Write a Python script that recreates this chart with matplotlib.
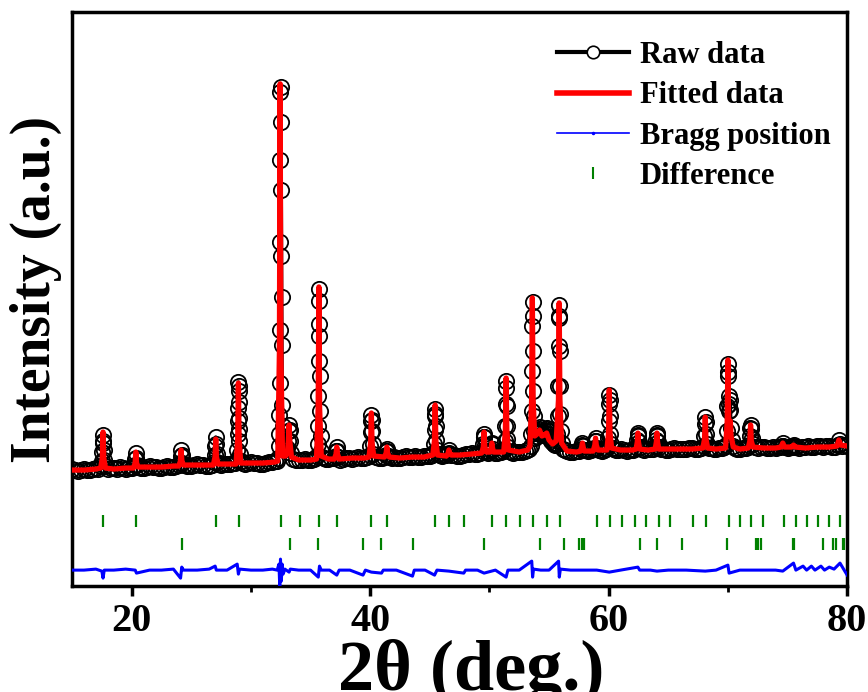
import numpy as np
import matplotlib
matplotlib.use('Agg')
import matplotlib.pyplot as plt
from matplotlib.lines import Line2D

plt.rcParams['font.family'] = ['Liberation Serif', 'DejaVu Serif']
plt.rcParams['font.weight'] = 'bold'

# observed pattern (2theta, intensity a.u.)
obs_x = [15.0, 15.25, 15.5, 15.75, 16.0, 16.25, 16.5, 16.75, 17.0, 17.2,
         17.44, 17.50, 17.54, 17.57, 17.60, 17.63, 17.66, 17.70, 17.76,
         18.0, 18.25, 18.5, 18.75, 19.0, 19.25, 19.5, 19.75, 20.0, 20.15,
         20.27, 20.32, 20.35, 20.38, 20.43,
         20.6, 20.8, 21.0, 21.25, 21.5, 21.75, 22.0, 22.25, 22.5, 22.75, 23.0, 23.25, 23.5, 23.75, 24.0,
         24.07, 24.12, 24.15, 24.18, 24.24,
         24.4, 24.6, 24.75, 25.0, 25.25, 25.5, 25.75, 26.0, 26.25, 26.5, 26.75,
         26.92, 26.98, 27.02, 27.05, 27.08, 27.12, 27.19,
         27.35, 27.5, 27.75, 28.0, 28.25, 28.5, 28.65,
         28.80, 28.86, 28.90, 28.92, 28.93, 28.95, 28.96, 28.97, 28.99, 29.00, 29.02, 29.04, 29.09, 29.16,
         29.3, 29.5, 29.75, 30.0, 30.25, 30.5, 30.75, 31.0, 31.25, 31.5, 31.75, 32.0, 32.15,
         32.28, 32.32, 32.35, 32.38, 32.40, 32.42, 32.44, 32.46, 32.48, 32.50, 32.52, 32.54, 32.56, 32.58, 32.60,
         32.63, 32.67, 32.72, 32.78, 32.85, 32.92, 33.00,
         33.10, 33.16, 33.20, 33.24, 33.30, 33.40,
         33.5, 33.75, 34.0, 34.25, 34.5, 34.75, 35.0, 35.25, 35.4,
         35.55, 35.60, 35.63, 35.65, 35.67, 35.69, 35.71, 35.73, 35.75, 35.77, 35.80, 35.84, 35.90, 35.98,
         36.15, 36.3, 36.5, 36.75, 37.0,
         37.12, 37.17, 37.20, 37.23, 37.30,
         37.5, 37.75, 38.0, 38.25, 38.5, 38.75, 39.0, 39.25, 39.5, 39.75,
         39.96, 40.02, 40.06, 40.09, 40.11, 40.13, 40.16, 40.20, 40.27,
         40.5, 40.75, 41.0, 41.15,
         41.30, 41.36, 41.40, 41.45, 41.52,
         41.7, 41.85, 42.0, 42.25, 42.5, 42.75, 43.0, 43.25, 43.5, 43.75, 44.0, 44.25, 44.5, 44.75, 45.0, 45.15,
         45.30, 45.36, 45.40, 45.43, 45.45, 45.47, 45.50, 45.54, 45.60, 45.68,
         45.85, 46.0, 46.2, 46.35,
         46.52, 46.58, 46.64,
         46.8, 47.0, 47.25, 47.5, 47.75, 48.0, 48.25, 48.5, 48.75, 49.0, 49.25,
         49.42, 49.48, 49.52, 49.55, 49.58, 49.62, 49.70,
         49.85, 50.0,
         50.12, 50.18, 50.22, 50.27,
         50.45, 50.6, 50.8, 51.0, 51.12,
         51.25, 51.30, 51.34, 51.37, 51.40, 51.42, 51.44, 51.47, 51.51, 51.57, 51.65,
         51.8, 52.0, 52.25, 52.5, 52.75, 53.0, 53.15, 53.3,
         53.45, 53.50, 53.54, 53.57, 53.60, 53.62, 53.64, 53.66, 53.69, 53.72, 53.76, 53.82,
         53.90, 54.00, 54.08, 54.15, 54.25, 54.35, 54.42, 54.50, 54.58, 54.65, 54.72, 54.80, 54.88, 54.95,
         55.02, 55.10, 55.2, 55.30, 55.40, 55.50, 55.58, 55.65,
         55.70, 55.74, 55.77, 55.80, 55.83, 55.85, 55.87, 55.90, 55.93, 55.96, 56.00, 56.08, 56.2,
         56.35, 56.5, 56.75, 57.0, 57.25, 57.5,
         57.70, 57.76, 57.80, 57.85, 57.92,
         58.1, 58.3, 58.5, 58.65,
         58.80, 58.86, 58.90, 58.94, 59.02,
         59.2, 59.4, 59.6, 59.75,
         59.90, 59.96, 60.00, 60.03, 60.05, 60.07, 60.10, 60.14, 60.20, 60.28,
         60.45, 60.6, 60.8, 61.0, 61.25, 61.5, 61.75, 62.0, 62.15,
         62.33, 62.39, 62.43, 62.46, 62.49, 62.54, 62.62,
         62.8, 63.0, 63.25, 63.5, 63.7,
         63.93, 63.99, 64.03, 64.06, 64.09, 64.14, 64.22,
         64.4, 64.6, 64.8, 65.0, 65.25, 65.5, 65.75, 66.0, 66.25, 66.5, 66.75, 67.0, 67.25, 67.5, 67.75,
         67.97, 68.03, 68.07, 68.10, 68.13, 68.17, 68.24,
         68.4, 68.6, 68.8, 69.0, 69.25, 69.5, 69.7,
         69.86, 69.92, 69.96, 69.99, 70.01, 70.03, 70.06, 70.09, 70.13, 70.17, 70.21, 70.26, 70.33, 70.42,
         70.6, 70.8, 71.0, 71.25, 71.5, 71.65,
         71.78, 71.84, 71.88, 71.91, 71.94, 71.99, 72.07,
         72.25, 72.5, 72.75, 73.0, 73.25, 73.5, 73.75, 74.0, 74.2, 74.35,
         74.52, 74.58, 74.66,
         74.8, 75.0, 75.2, 75.35,
         75.45, 75.52, 75.60,
         75.75, 76.0, 76.25, 76.5, 76.75, 77.0, 77.25, 77.5, 77.75, 78.0, 78.25, 78.5, 78.75, 79.0,
         79.20, 79.30, 79.40,
         79.6, 79.8, 80.0]
obs_y = [117, 116, 115, 116, 117, 116, 116, 117, 118, 117,
         120, 125, 134, 143, 151, 145, 136, 126, 120,
         117, 118, 118, 117, 119, 118, 117, 118, 118, 119,
         121, 127, 133, 128, 121,
         119, 118, 118, 119, 120, 119, 119, 118, 118, 119, 120, 119, 119, 120, 121,
         123, 130, 136, 131, 123,
         121, 120, 121, 120, 121, 122, 121, 121, 120, 120, 121,
         124, 131, 140, 149, 142, 132, 124,
         122, 121, 122, 122, 122, 123, 123,
         126, 136, 152, 165, 178, 204, 200, 195, 184, 168, 157, 145, 132, 125,
         123, 122, 123, 124, 123, 123, 122, 122, 123, 124, 124, 125, 125,
         128, 140, 152, 171, 203, 256, 344, 426, 494, 499, 464, 396, 330, 289, 241,
         181, 160, 145, 140, 138, 137, 138,
         145, 155, 161, 156, 145, 133,
         127, 126, 126, 126, 127, 126, 126, 127, 128,
         130, 142, 160, 190, 225, 262, 297, 285, 250, 210, 175, 150, 135, 129,
         128, 127, 127, 128, 128,
         130, 135, 139, 135, 129,
         126, 127, 128, 128, 127, 128, 129, 128, 128, 129,
         131, 140, 154, 165, 171, 166, 155, 142, 132,
         129, 128, 128, 129,
         131, 135, 137, 135, 130,
         129, 128, 129, 128, 128, 129, 130, 129, 129, 130, 129, 129, 130, 130, 130, 131,
         133, 142, 156, 170, 177, 172, 160, 146, 136, 132,
         131, 130, 131, 131,
         132, 136, 133,
         131, 131, 130, 130, 131, 132, 132, 133, 132, 132, 133,
         135, 142, 149, 152, 149, 141, 135,
         133, 134,
         136, 142, 143, 137,
         133, 133, 134, 134, 135,
         137, 145, 160, 182, 205, 198, 180, 160, 147, 139, 135,
         134, 133, 134, 134, 134, 135, 136, 137,
         140, 152, 175, 215, 260, 284, 270, 235, 195, 170, 155, 148,
         150, 153, 155, 157, 159, 154, 152, 151, 153, 155, 157, 158, 155, 152,
         149, 147, 145, 143, 142, 141, 143, 146,
         152, 170, 200, 240, 270, 281, 268, 235, 200, 172, 155, 143, 137,
         136, 135, 134, 134, 135, 135,
         137, 141, 143, 140, 136,
         136, 135, 136, 137,
         138, 145, 148, 145, 138,
         136, 135, 136, 137,
         138, 148, 165, 182, 191, 186, 170, 152, 142, 138,
         137, 136, 136, 137, 136, 135, 136, 136, 137,
         139, 146, 151, 153, 150, 144, 139,
         137, 136, 137, 137, 137,
         139, 146, 151, 153, 150, 144, 139,
         137, 137, 136, 136, 137, 138, 137, 137, 137, 137, 138, 138, 137, 137, 138,
         140, 150, 162, 169, 164, 152, 142,
         138, 138, 137, 137, 138, 138, 139,
         141, 155, 180, 210, 222, 214, 190, 175, 182, 186, 176, 158, 146, 140,
         138, 137, 137, 138, 138, 139,
         141, 150, 158, 161, 157, 148, 142,
         139, 138, 139, 139, 138, 138, 139, 138, 139, 139,
         140, 143, 140,
         139, 138, 139, 139,
         140, 141, 139,
         139, 138, 139, 139, 140, 139, 139, 140, 140, 139, 140, 140, 139, 139,
         141, 146, 142,
         140, 141, 140]

# fitted (calculated) profile
fit_x = [15.0, 16.0, 17.0, 17.4, 17.54, 17.6, 17.66, 17.8, 18.5, 19.5,
         20.15, 20.29, 20.35, 20.41, 20.55, 21.5, 22.5, 23.5,
         23.95, 24.09, 24.15, 24.21, 24.35, 25.5, 26.5,
         26.85, 26.99, 27.05, 27.11, 27.25, 28.0,
         28.75, 28.89, 28.95, 29.01, 29.15, 30.0, 31.0, 32.0,
         32.25, 32.39, 32.45, 32.51, 32.65, 32.9,
         33.06, 33.14, 33.2, 33.26, 33.4, 34.0, 35.0,
         35.5, 35.64, 35.7, 35.76, 35.9, 36.5, 37.0,
         37.14, 37.2, 37.26, 37.4, 38.5, 39.5,
         39.9, 40.04, 40.1, 40.16, 40.3, 41.2,
         41.34, 41.4, 41.46, 41.6, 42.5, 43.5, 44.5,
         45.25, 45.39, 45.45, 45.51, 45.65, 46.4,
         46.54, 46.6, 46.66, 46.8, 47.5, 48.5,
         49.35, 49.49, 49.55, 49.61, 49.75, 50.05,
         50.14, 50.2, 50.26, 50.35, 51.2,
         51.34, 51.4, 51.46, 51.6, 52.5, 53.2,
         53.4, 53.54, 53.6, 53.66, 53.8, 54.0, 54.2, 54.4, 54.6, 54.8, 55.0, 55.3, 55.6,
         55.79, 55.85, 55.91, 56.05, 56.5, 57.3,
         57.65, 57.74, 57.8, 57.86, 57.95, 58.7,
         58.84, 58.9, 58.96, 59.1, 59.85,
         59.99, 60.05, 60.11, 60.25, 61.0, 62.0,
         62.3, 62.4, 62.45, 62.5, 62.6, 63.3,
         63.9, 64.0, 64.05, 64.1, 64.2, 65.0, 66.0, 67.0,
         67.9, 68.04, 68.1, 68.16, 68.3, 69.0,
         69.8, 69.94, 70.0, 70.06, 70.14, 70.2, 70.26, 70.45, 71.0,
         71.7, 71.84, 71.9, 71.96, 72.1, 73.0, 74.0,
         74.45, 74.6, 74.75, 75.35, 75.5, 75.65, 76.5, 77.5, 78.5,
         79.15, 79.3, 79.45, 80.0]
fit_y = [116, 116, 117, 118, 128, 154, 128, 118, 117, 118,
         118, 123, 134, 123, 119, 119, 119, 120,
         120, 125, 136, 125, 121, 121, 121,
         121, 129, 147, 129, 122, 122,
         122, 146, 203, 146, 123, 123, 123, 124,
         125, 235, 502, 235, 130, 130,
         133, 145, 161, 145, 129, 126, 126,
         127, 178, 299, 178, 130, 127, 127,
         132, 139, 132, 127, 128, 128,
         129, 143, 173, 143, 130, 129,
         133, 139, 133, 129, 128, 129, 129,
         131, 145, 181, 145, 131, 130,
         133, 136, 133, 131, 131, 132,
         133, 139, 154, 139, 134, 134,
         138, 143, 138, 134, 134,
         156, 208, 156, 136, 134, 136,
         140, 187, 288, 187, 150, 152, 156, 150, 151, 153, 146, 142, 145,
         186, 283, 186, 143, 135, 134,
         135, 139, 143, 139, 135, 135,
         141, 148, 141, 136, 136,
         153, 196, 153, 138, 136, 136,
         137, 144, 153, 144, 137, 136,
         137, 144, 153, 144, 137, 137, 137, 137,
         138, 147, 169, 147, 138, 137,
         138, 164, 226, 164, 150, 165, 150, 139, 137,
         138, 145, 161, 145, 139, 138, 138,
         139, 143, 139, 139, 141, 139, 138, 139, 139,
         140, 146, 141, 140]

# difference curve (shown offset below)
diff_x = [15.0, 16.0, 17.0, 17.5, 17.6, 17.7, 18.5, 19.5, 20.3, 20.4, 21.5, 22.5, 23.5,
          24.1, 24.2, 24.35, 25.5, 26.5, 27.0, 27.1, 28.0, 28.85, 28.95, 29.05, 30.0, 31.0,
          31.8, 32.2, 32.35, 32.42, 32.48, 32.55, 32.62, 32.7, 32.85, 33.2, 33.3, 34.0, 35.0,
          35.65, 35.75, 35.9, 36.6, 37.2, 37.4, 38.3, 39.4, 39.6, 40.1, 40.95, 41.1, 42.2,
          43.55, 43.7, 44.6, 45.4, 45.6, 46.6, 47.85, 48.0, 49.0, 49.55, 50.5, 51.4, 51.55,
          52.5, 53.55, 53.62, 53.7, 54.3, 55.0, 55.8, 55.86, 55.95, 56.8, 58.0, 59.0, 60.05,
          61.0, 62.45, 62.6, 63.5, 64.05, 65.0, 66.5, 68.1, 69.0, 70.0, 70.1, 71.0, 72.0,
          73.0, 74.0, 74.6, 75.5, 75.7, 76.3, 76.6, 77.0, 77.3, 77.8, 78.1, 78.5, 78.9,
          79.4, 79.7, 80.0]
diff_y = [16, 16, 17, 15, 8, 16, 16, 17, 16, 13, 16, 16, 17,
          8, 19, 16, 16, 17, 20, 16, 16, 22, 12, 17, 16, 16,
          17, 16, 22, -1, 27, 5, 22, 12, 17, 14, 17, 16, 16,
          9, 20, 16, 16, 11, 16, 16, 11, 16, 14, 13, 16, 16,
          10, 16, 16, 11, 16, 15, 13, 16, 16, 13, 16, 9, 16,
          16, 25, 9, 17, 16, 16, 25, 9, 17, 16, 16, 16, 14,
          16, 19, 16, 16, 15, 16, 16, 15, 16, 21, 13, 16, 16,
          16, 16, 15, 23, 16, 20, 16, 20, 16, 20, 16, 19, 17,
          23, 17, 11]

# reflection positions, two phases
bragg_1 = [17.59, 20.36, 27.06, 28.97, 32.50, 34.12, 35.71, 37.20, 40.11, 41.45, 45.44, 46.64, 47.84,
           50.23, 51.40, 52.58, 53.64, 54.82, 55.88, 59.02, 60.08, 61.15, 62.18, 63.17, 64.20, 65.18,
           67.08, 68.15, 70.06, 71.01, 71.93, 72.92, 74.73, 75.71, 76.61, 77.54, 78.46, 79.41]
bragg_2 = [24.18, 33.25, 35.66, 39.44, 40.95, 43.55, 49.58, 54.20, 56.22, 57.50, 57.73, 57.92,
           62.61, 64.06, 66.19, 69.89, 72.33, 72.55, 72.75, 75.44, 75.57, 77.96, 78.85, 79.08,
           79.64, 79.77]

assert len(obs_x) == len(obs_y)
assert len(fit_x) == len(fit_y)
assert len(diff_x) == len(diff_y)

fig = plt.figure(figsize=(8.68, 6.92), dpi=100)
ax = fig.add_axes([0.083, 0.153, 0.893, 0.830])

ax.plot(obs_x, obs_y, color='black', lw=2.5, marker='o', ms=11, mfc='none',
        mec='black', mew=1.3, zorder=2)
ax.plot(fit_x, fit_y, color='red', lw=3.8, zorder=3)
ax.plot(diff_x, diff_y, color='blue', lw=2.2, zorder=3)
ax.plot(bragg_1, np.full(len(bragg_1), 65), '|', color='green', ms=9, mew=1.6, zorder=3)
ax.plot(bragg_2, np.full(len(bragg_2), 42), '|', color='green', ms=9, mew=1.6, zorder=3)

ax.set_xlim(15, 80)
ax.set_ylim(0, 574)
ax.set_xticks([20, 40, 60, 80])
ax.set_xticks([30, 50, 70], minor=True)
ax.set_yticks([])
ax.tick_params(axis='x', which='major', direction='out', length=7, width=2.5,
               labelsize=29, pad=5)
ax.tick_params(axis='x', which='minor', direction='out', length=4, width=2)
for s in ax.spines.values():
    s.set_linewidth(2.5)

ax.set_xlabel('2θ (deg.)', fontsize=52, fontweight='bold')
ax.xaxis.set_label_coords(0.515, -0.1794)
ax.xaxis.label.set_verticalalignment('baseline')
ax.set_ylabel('Intensity (a.u.)', fontsize=40, fontweight='bold')
ax.yaxis.set_label_coords(-0.013, 0.516)

handles = [
    Line2D([], [], color='black', lw=3, marker='o', ms=9, mfc='white', mec='black', mew=1.2),
    Line2D([], [], color='red', lw=4),
    Line2D([], [], color='blue', lw=1.2, marker='.', ms=3),
    Line2D([], [], color='green', ls='none', marker='|', ms=9, mew=1.5),
]
labels = ['Raw data', 'Fitted data', 'Bragg position', 'Difference']
ax.legend(handles, labels, loc='upper left', bbox_to_anchor=(0.626, 0.949),
          frameon=False, fontsize=22, numpoints=1, handlelength=2.35,
          handletextpad=0.35, labelspacing=0.37, borderpad=0, borderaxespad=0)

plt.savefig('out.png', dpi=100)
